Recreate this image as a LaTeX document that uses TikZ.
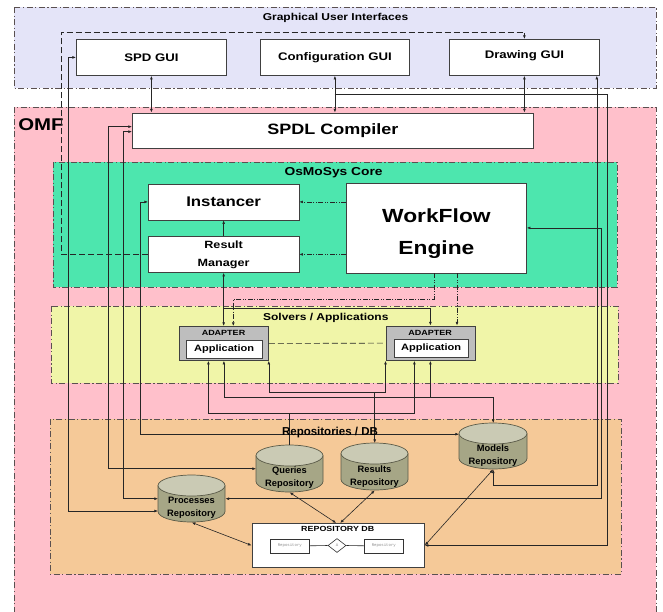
\documentclass[tikz,border=0pt]{standalone}
\usepackage{fontspec}
\setmainfont{Liberation Sans}
\newfontfamily\wf[FakeStretch=1.2]{Liberation Sans}
\newfontfamily\monof{Liberation Mono}
\usetikzlibrary{arrows.meta,shapes.geometric}
\definecolor{guibg}{HTML}{E4E4F8}
\definecolor{omfbg}{HTML}{FFC0CB}
\definecolor{corebg}{HTML}{4DE6AE}
\definecolor{solbg}{HTML}{F0F5A8}
\definecolor{repbg}{HTML}{F5C998}
\definecolor{framec}{HTML}{5A5050}
\definecolor{cyltop}{HTML}{CACAB4}
\definecolor{cylbody}{HTML}{A6A686}
\definecolor{cylline}{HTML}{5A5A48}
\definecolor{adgray}{HTML}{BEBEBE}
\newcommand\mycyl[4]{%
  \fill[cylbody] ({#1-#3},#2) -- ({#1-#3},#4) arc[start angle=180,end angle=360,x radius=#3pt,y radius=10.5pt] -- ({#1+#3},#2) -- cycle;
  \draw[cylline,line width=0.7pt] ({#1-#3},#2) -- ({#1-#3},#4) arc[start angle=180,end angle=360,x radius=#3pt,y radius=10.5pt] -- ({#1+#3},#2);
  \draw[cylline,line width=0.7pt,fill=cyltop] (#1,#2) ellipse[x radius=#3pt,y radius=10.5pt];
}
\begin{document}
\begin{tikzpicture}[x=1pt,y=-1pt,
  >={Latex[length=3.6pt,width=2.8pt]},
  frame/.style={draw=framec,line width=0.8pt,dash pattern=on 6pt off 2.5pt on 1.2pt off 2.5pt},
  box/.style={draw=black!75,fill=white,line width=0.8pt,inner sep=0pt,anchor=north west},
  anc/.style={inner sep=0pt,anchor=north west},
  conn/.style={draw=black!85,line width=0.6pt},
  dd/.style={conn,dash pattern=on 5pt off 1.5pt on 1pt off 1.5pt on 1pt off 1.5pt},
  dsh/.style={conn,dash pattern=on 6pt off 3pt},
  tFrame/.style={font=\wf\bfseries\fontsize{10}{12}\selectfont},
  tGui/.style={font=\wf\bfseries\fontsize{11}{13}\selectfont},
  tCyl/.style={font=\bfseries\fontsize{9.3}{13}\selectfont,align=center},
]
\useasboundingbox (0,0) rectangle (663,611);
\fill[white] (0,0) rectangle (663,611);
% frames
\fill[guibg] (14,7) rectangle (656,88);
\draw[frame] (14,7) rectangle (656,88);
\fill[omfbg] (14,107) rectangle (656,625);
\draw[frame] (14,625) -- (14,107) -- (656,107) -- (656,625);
\fill[corebg] (53,162) rectangle (617,287);
\draw[frame] (53,162) rectangle (617,287);
\fill[solbg] (51,306) rectangle (618,383);
\draw[frame] (51,306) rectangle (618,383);
\fill[repbg] (50,419) rectangle (621,574);
\draw[frame] (50,419) rectangle (621,574);
\node[font=\wf\bfseries\fontsize{17}{20}\selectfont] (omf) at (41,124.5) {OMF};

% boxes
\node[box,minimum width=150pt,minimum height=36pt] (spd) at (76,39) {};
\node[tGui] (spdT) at (spd.center) {SPD GUI};
\node[box,minimum width=149pt,minimum height=36pt] (cfg) at (260,39) {};
\node[tGui] (cfgT) at (cfg.center) {Configuration GUI};
\node[box,minimum width=150pt,minimum height=36pt] (dgui) at (449,39) {};
\node[tGui] (dguiT) at ([yshift=1.5pt]dgui.center) {Drawing GUI};
\node[box,minimum width=401pt,minimum height=35.5pt,font=\wf\bfseries\fontsize{15}{18}\selectfont] (spdl) at (132,112.5) {SPDL Compiler};
\node[box,minimum width=150.5pt,minimum height=36pt,font=\wf\bfseries\fontsize{14}{17}\selectfont] (inst) at (148,183.5) {Instancer};
\node[box,minimum width=150.5pt,minimum height=36pt] (rm) at (148,236) {};
\node[font=\wf\bfseries\fontsize{10.5}{18}\selectfont,align=center] (rmT) at ([yshift=-0.5pt]rm.center) {Result\\Manager};
\node[box,minimum width=180pt,minimum height=90pt] (wf) at (346,182.5) {};
\node[font=\wf\bfseries\fontsize{19}{32}\selectfont,align=center] (wfT) at ([yshift=-6pt]wf.center) {WorkFlow\\Engine};
% adapters
\node[box,fill=adgray,minimum width=89pt,minimum height=34pt] (ad1) at (179,326) {};
\node[box,minimum width=75.5pt,minimum height=18pt,font=\wf\bfseries\fontsize{9.2}{11}\selectfont] (app1) at (186,340) {Application};
\node[font=\wf\bfseries\fontsize{7.5}{9}\selectfont] (ad1T) at (223.5,333) {ADAPTER};
\node[box,fill=adgray,minimum width=89pt,minimum height=34.5pt] (ad2) at (385.5,325.5) {};
\node[box,minimum width=74.5pt,minimum height=18pt,font=\wf\bfseries\fontsize{9.2}{11}\selectfont] (app2) at (393.5,339) {Application};
\node[font=\wf\bfseries\fontsize{7.5}{9}\selectfont] (ad2T) at (430,332.5) {ADAPTER};

% repository DB
\node[box,minimum width=172.5pt,minimum height=44pt] (repdb) at (251.5,523) {};
\node[font=\wf\bfseries\fontsize{7.4}{9}\selectfont] (repdbT) at (337.75,528.5) {REPOSITORY DB};
\node[box,draw=black!80,line width=0.6pt,minimum width=39pt,minimum height=14pt,text=black!45,font=\monof\fontsize{4}{5}\selectfont] (rep1) at (270,538.5) {Repository};
\node[box,draw=black!80,line width=0.6pt,minimum width=39pt,minimum height=14pt,text=black!45,font=\monof\fontsize{4}{5}\selectfont] (rep2) at (364,538.5) {Repository};
\node[diamond,draw=black!80,fill=white,line width=0.6pt,inner sep=0pt,minimum width=18pt,minimum height=14pt,text=black!45,font=\monof\fontsize{4}{5}\selectfont] (dia) at (337,545.5) {A};
\draw[conn] (rep1.east) -- (dia.west);
\draw[conn] (dia.east) -- (rep2.west);

% cylinders
\mycyl{191.5}{485.5}{33.5}{511.5}
\mycyl{289.5}{455.5}{33.5}{481.5}
\mycyl{374.5}{453.5}{33.5}{479.5}
\mycyl{493}{433.5}{34}{458.5}
\node[anc,minimum width=67pt,minimum height=47pt] (proc) at (158,475) {};
\node[anc,minimum width=67pt,minimum height=47pt] (q) at (256,445) {};
\node[anc,minimum width=67pt,minimum height=47pt] (r) at (341,443) {};
\node[anc,minimum width=68pt,minimum height=46pt] (models) at (459,423) {};
\node[tCyl] (procT) at (191.5,507.5) {Processes\\Repository};
\node[tCyl] (qT) at (289.5,478) {Queries\\Repository};
\node[tCyl] (rT) at (374.5,476.5) {Results\\Repository};
\node[tCyl] (mT) at (493,456) {Models\\Repository};

% coordinates
\coordinate (k8) at (108,0);
\coordinate (k9) at (123,0);
\coordinate (k10) at (140,0);
\coordinate (k11) at (61,32);
\coordinate (p7) at (68,511);
\coordinate (cb) at (334.5,94);
\coordinate (k15) at (0,308);
\coordinate (k16) at (434,0);
\coordinate (k16b) at (233.3,299);
\coordinate (k17) at (457,0);
\coordinate (bq) at (0,413);
\coordinate (br) at (0,392);
\coordinate (bm) at (0,397);
\coordinate (q1) at ([xshift=-15.5pt]ad1.south);
\coordinate (q2) at ([xshift=-16pt]ad2.south);
\coordinate (mtop) at ([yshift=12pt]models.west);

% connectors
\draw[conn,<->] (spd.south) -- (spd.south |- spdl.north);
\draw[conn,<->] (cfg.south) -- (cfg.south |- spdl.north);
\draw[conn,<->] (dgui.south) -- (dgui.south |- spdl.north);
\draw[conn,->] (cb) -| ([xshift=182pt]repdb.east) -- (repdb.east);
\draw[conn,<->] ([xshift=-3pt]dgui.south east) -- ([xshift=-3pt]dgui.south east |- 0,485) -| (models.south);
\draw[conn,<->] (wf.east) -| ([xshift=376pt]proc.east) -- (proc.east);
\draw[conn,<->] (spd.west) -| (p7) -- (proc.west |- p7);
\draw[conn,<->] ([yshift=4pt]spdl.west) -| (k8 |- q.west) -- (q.west);
\draw[conn,<->] ([yshift=-1pt]spdl.west) -| (k9 |- proc.west) -- (proc.west);
\draw[conn,<->] (inst.west) -| (k10 |- mtop) -- (mtop);
\draw[dsh,->] (rm.west) -| (k11) -| (dgui.north);
\draw[conn,->] (rm.north) -- (inst.south);
\draw[dd,->] (wf.west |- inst.east) -- (inst.east);
\draw[dd,->] (wf.west |- rm.east) -- (rm.east);
\draw[conn,<->] (rm.south) -- (rm.south |- ad1.north);
\draw[conn,->] (rm.south |- k15) -| (ad2.north);
\draw[dd,->] (wf.south -| k16) |- (k16b) -- (k16b |- ad1.north);
\draw[dd,->] (wf.south -| k17) -- (k17 |- ad2.north);
\draw[dsh] (ad1.east) -- (ad2.west);
% queries bus
\draw[conn,->] (q.north) |- (q1 |- bq) -- (q1);
\draw[conn,->] (q1 |- bq) -| (q2);
% results bus
\draw[conn,<->] (r.north) |- (ad1.south east |- br) -- (ad1.south east);
\draw[conn,->] (r.north |- br) -| (ad2.south west);
% models bus
\draw[conn,<->] (models.north) |- (ad1.south |- bm) -- (ad1.south);
\draw[conn,->] (ad2.south |- bm) -- (ad2.south);
% repository DB links
\draw[conn,<->] (proc.south) -- (repdb.west);
\draw[conn,<->] (q.south) -- ([xshift=-2pt]repdb.north);
\draw[conn,<->] (r.south) -- ([xshift=2pt]repdb.north);
\draw[conn,<->] (models.south) -- (repdb.east);

% frame titles
\node[tFrame] (guiT) at (335.5,17.5) {Graphical User Interfaces};
\node[font=\wf\bfseries\fontsize{11.5}{13}\selectfont] (coreT) at (333.6,172.5) {OsMoSys Core};
\node[font=\wf\bfseries\fontsize{10}{12}\selectfont] (solT) at (325.8,318) {Solvers / Applications};
\node[font=\bfseries\fontsize{11.5}{13}\selectfont] (repT) at (330,433) {Repositories / DB};
\end{tikzpicture}
\end{document}
